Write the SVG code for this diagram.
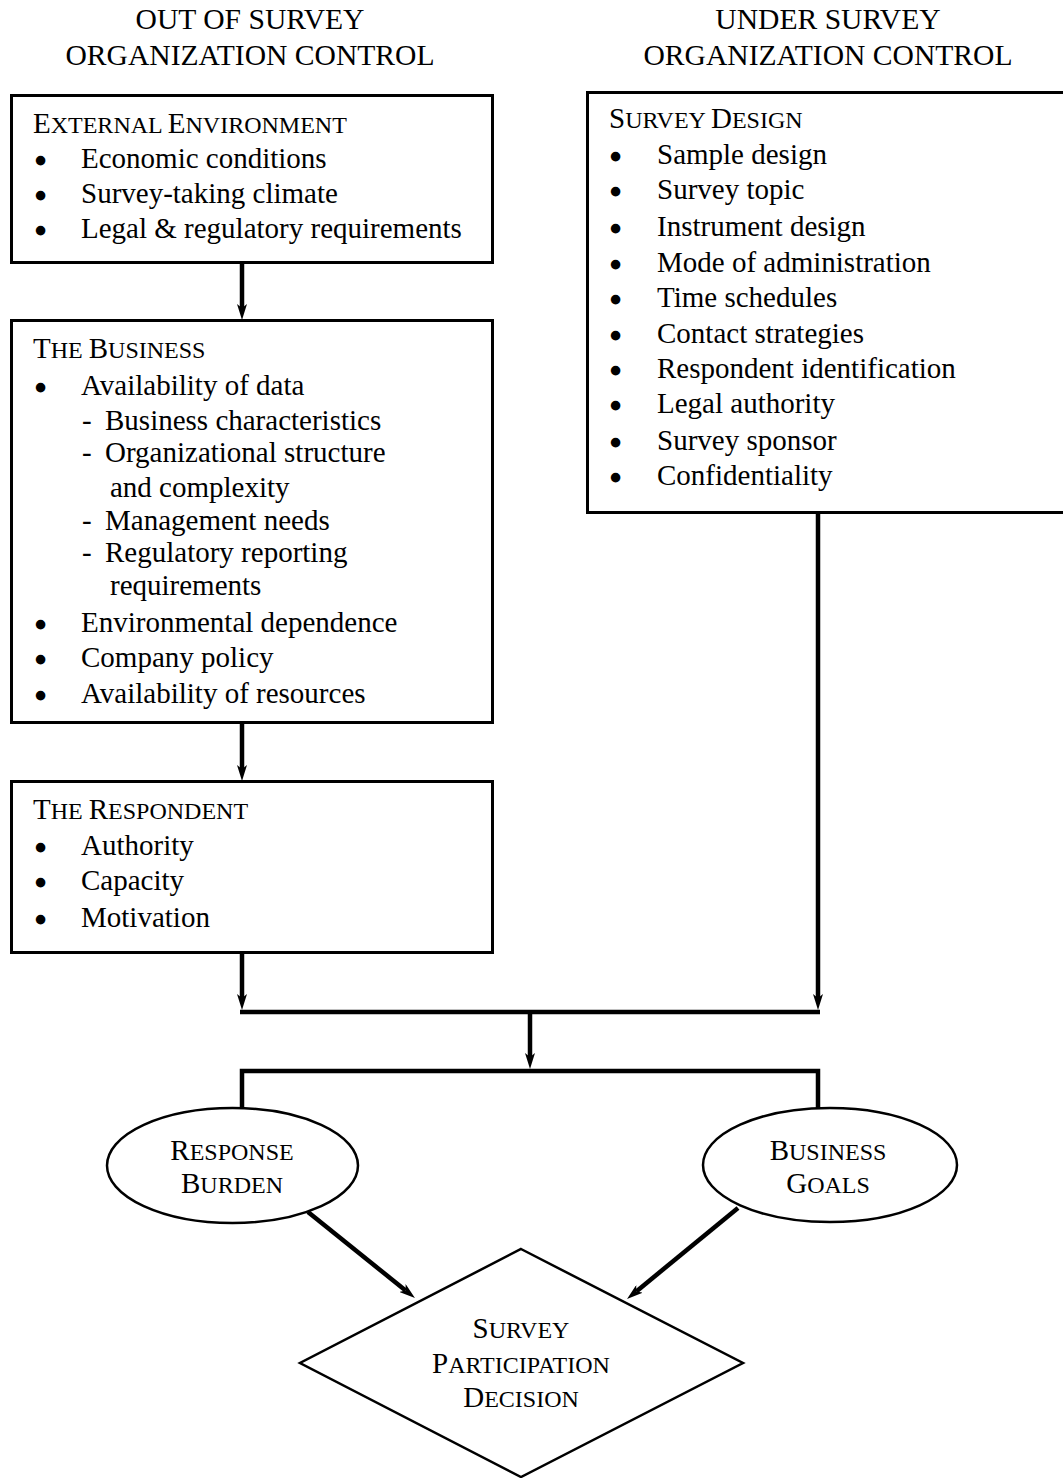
<svg xmlns="http://www.w3.org/2000/svg" width="1063" height="1478" viewBox="0 0 1063 1478">
<style>
text{font-family:"Liberation Serif","Times New Roman",serif;font-size:29px;fill:#000}
.sc{font-size:24px}
.b{stroke:#000;stroke-width:2.6}
.mid{text-anchor:middle}
.hd{font-size:29.6px}
.box{fill:#fff;stroke:#000;stroke-width:3}
.shape{fill:#fff;stroke:#000;stroke-width:2.5}
.conn{fill:none;stroke:#000;stroke-width:4.5}
</style>
<defs>
<marker id="ah" viewBox="0 0 16 10" refX="4" refY="5" markerWidth="16" markerHeight="10" markerUnits="userSpaceOnUse" orient="auto">
<path d="M0,0 L16,5 L0,10 L4,5 z" fill="#000"/>
</marker>
</defs>

<g id="header-left">
<text class="mid hd" x="250" y="29">OUT OF SURVEY</text>
<text class="mid hd" x="250" y="65">ORGANIZATION CONTROL</text>
</g>
<g id="header-right">
<text class="mid hd" x="828" y="29">UNDER SURVEY</text>
<text class="mid hd" x="828" y="65">ORGANIZATION CONTROL</text>
</g>

<g id="connectors">
<line class="conn" x1="242" y1="263" x2="242" y2="308" marker-end="url(#ah)"/>
<line class="conn" x1="242" y1="723" x2="242" y2="769" marker-end="url(#ah)"/>
<line class="conn" x1="242" y1="953" x2="242" y2="998" marker-end="url(#ah)"/>
<line class="conn" x1="818" y1="513" x2="818" y2="998" marker-end="url(#ah)"/>
<line class="conn" x1="240" y1="1012" x2="820" y2="1012"/>
<line class="conn" x1="530" y1="1012" x2="530" y2="1057" marker-end="url(#ah)"/>
<path class="conn" d="M242,1109 V1071 H818 V1109"/>
<line class="conn" x1="308" y1="1212" x2="405.6" y2="1290.5" marker-end="url(#ah)"/>
<line class="conn" x1="738" y1="1208" x2="636.3" y2="1291.4" marker-end="url(#ah)"/>
</g>

<g id="external-environment">
<rect class="box" x="11.5" y="95.5" width="481" height="167"/>
<text x="33" y="133">E<tspan class="sc">XTERNAL </tspan>E<tspan class="sc">NVIRONMENT</tspan></text>
<text y="168"><tspan class="b" x="35.5" dy="3">•</tspan><tspan x="81" dy="-3">Economic conditions</tspan></text>
<text y="203"><tspan class="b" x="35.5" dy="3">•</tspan><tspan x="81" dy="-3">Survey-taking climate</tspan></text>
<text y="238"><tspan class="b" x="35.5" dy="3">•</tspan><tspan x="81" dy="-3">Legal &amp; regulatory requirements</tspan></text>
</g>

<g id="the-business">
<rect class="box" x="11.5" y="320.5" width="481" height="402"/>
<text x="33" y="358">T<tspan class="sc">HE </tspan>B<tspan class="sc">USINESS</tspan></text>
<text y="395"><tspan class="b" x="35.5" dy="3">•</tspan><tspan x="81" dy="-3">Availability of data</tspan></text>
<text y="430"><tspan x="82">- </tspan><tspan x="105">Business characteristics</tspan></text>
<text y="462"><tspan x="82">- </tspan><tspan x="105">Organizational structure</tspan></text>
<text x="110" y="497">and complexity</text>
<text y="530"><tspan x="82">- </tspan><tspan x="105">Management needs</tspan></text>
<text y="562"><tspan x="82">- </tspan><tspan x="105">Regulatory reporting</tspan></text>
<text x="110" y="595">requirements</text>
<text y="632"><tspan class="b" x="35.5" dy="3">•</tspan><tspan x="81" dy="-3">Environmental dependence</tspan></text>
<text y="667"><tspan class="b" x="35.5" dy="3">•</tspan><tspan x="81" dy="-3">Company policy</tspan></text>
<text y="703"><tspan class="b" x="35.5" dy="3">•</tspan><tspan x="81" dy="-3">Availability of resources</tspan></text>
</g>

<g id="the-respondent">
<rect class="box" x="11.5" y="781.5" width="481" height="171"/>
<text x="33" y="819">T<tspan class="sc">HE </tspan>R<tspan class="sc">ESPONDENT</tspan></text>
<text y="855"><tspan class="b" x="35.5" dy="3">•</tspan><tspan x="81" dy="-3">Authority</tspan></text>
<text y="890"><tspan class="b" x="35.5" dy="3">•</tspan><tspan x="81" dy="-3">Capacity</tspan></text>
<text y="927"><tspan class="b" x="35.5" dy="3">•</tspan><tspan x="81" dy="-3">Motivation</tspan></text>
</g>

<g id="survey-design">
<rect class="box" x="587.5" y="92.5" width="478" height="420"/>
<text x="609" y="128">S<tspan class="sc">URVEY </tspan>D<tspan class="sc">ESIGN</tspan></text>
<text y="164"><tspan class="b" x="610.5" dy="3">•</tspan><tspan x="657" dy="-3">Sample design</tspan></text>
<text y="199"><tspan class="b" x="610.5" dy="3">•</tspan><tspan x="657" dy="-3">Survey topic</tspan></text>
<text y="236"><tspan class="b" x="610.5" dy="3">•</tspan><tspan x="657" dy="-3">Instrument design</tspan></text>
<text y="272"><tspan class="b" x="610.5" dy="3">•</tspan><tspan x="657" dy="-3">Mode of administration</tspan></text>
<text y="307"><tspan class="b" x="610.5" dy="3">•</tspan><tspan x="657" dy="-3">Time schedules</tspan></text>
<text y="343"><tspan class="b" x="610.5" dy="3">•</tspan><tspan x="657" dy="-3">Contact strategies</tspan></text>
<text y="378"><tspan class="b" x="610.5" dy="3">•</tspan><tspan x="657" dy="-3">Respondent identification</tspan></text>
<text y="413"><tspan class="b" x="610.5" dy="3">•</tspan><tspan x="657" dy="-3">Legal authority</tspan></text>
<text y="450"><tspan class="b" x="610.5" dy="3">•</tspan><tspan x="657" dy="-3">Survey sponsor</tspan></text>
<text y="485"><tspan class="b" x="610.5" dy="3">•</tspan><tspan x="657" dy="-3">Confidentiality</tspan></text>
</g>

<g id="response-burden">
<ellipse class="shape" cx="232.5" cy="1165.5" rx="125.5" ry="57.5"/>
<text class="mid" x="232" y="1160">R<tspan class="sc">ESPONSE</tspan></text>
<text class="mid" x="232" y="1193">B<tspan class="sc">URDEN</tspan></text>
</g>

<g id="business-goals">
<ellipse class="shape" cx="830" cy="1165" rx="127" ry="57"/>
<text class="mid" x="828" y="1160">B<tspan class="sc">USINESS</tspan></text>
<text class="mid" x="828" y="1193">G<tspan class="sc">OALS</tspan></text>
</g>

<g id="decision">
<polygon class="shape" points="521,1249 743,1363 521,1477 300,1363"/>
<text class="mid" x="521" y="1338">S<tspan class="sc">URVEY</tspan></text>
<text class="mid" x="521" y="1373">P<tspan class="sc">ARTICIPATION</tspan></text>
<text class="mid" x="521" y="1407">D<tspan class="sc">ECISION</tspan></text>
</g>
</svg>
